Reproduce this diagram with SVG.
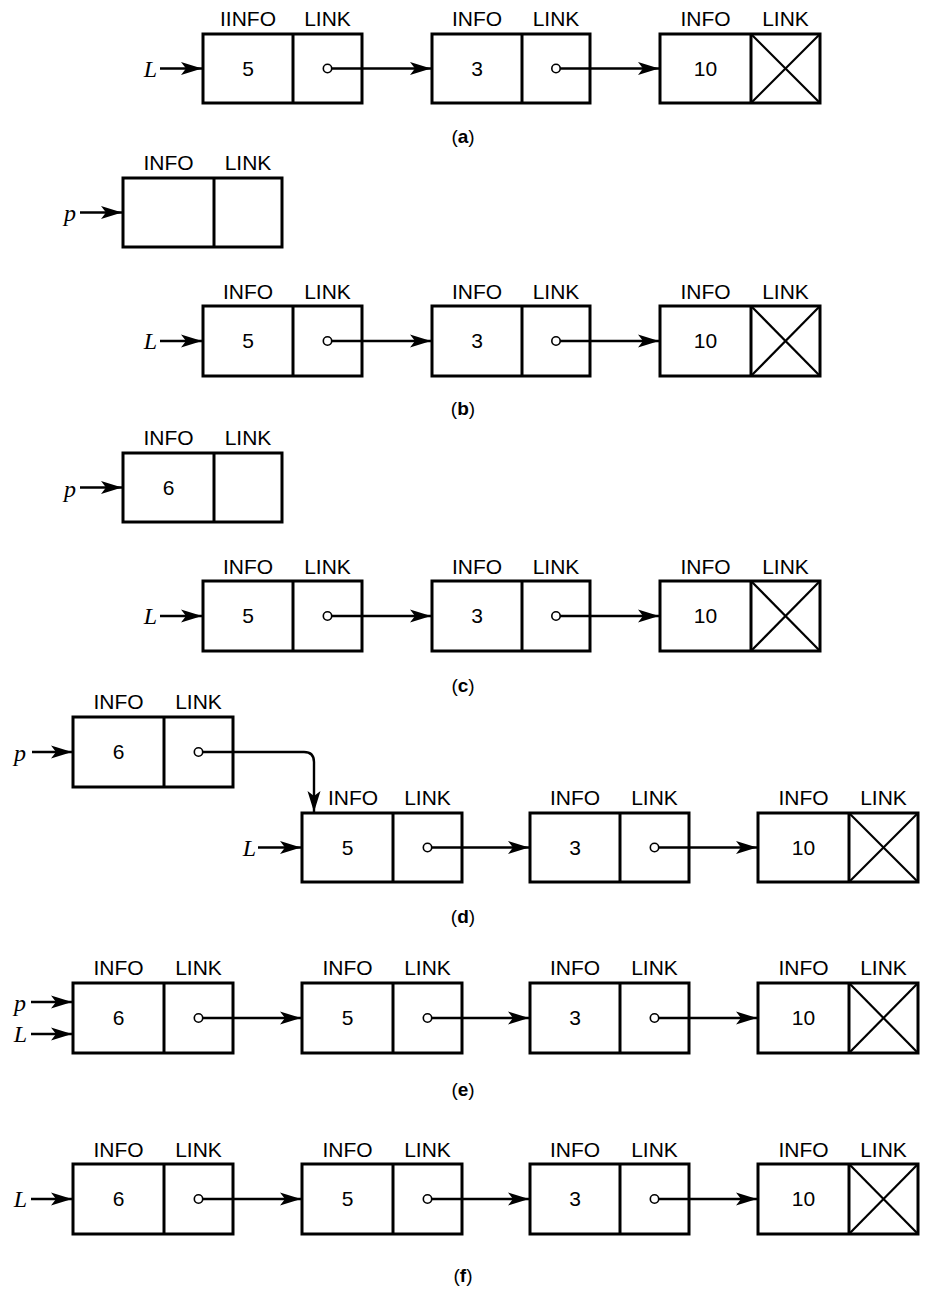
<svg xmlns="http://www.w3.org/2000/svg" width="925" height="1292" viewBox="0 0 925 1292">
<defs>
<style>
.box{fill:#fff;stroke:#000;stroke-width:3}
.dv{stroke:#000;stroke-width:3}
.x{stroke:#000;stroke-width:2.2}
.lbl{font-family:"Liberation Sans",Arial,sans-serif;font-size:21px;text-anchor:middle;fill:#000}
.val{font-family:"Liberation Sans",Arial,sans-serif;font-size:21px;text-anchor:middle;fill:#000}
.var{font-family:"Liberation Serif","Times New Roman",serif;font-style:italic;font-size:24px;text-anchor:end;fill:#000}
.cap{font-family:"Liberation Sans",Arial,sans-serif;font-size:19px;text-anchor:middle;fill:#000}
.cap tspan{font-weight:bold}
.ln{stroke:#000;stroke-width:2.4;fill:none;marker-end:url(#ah)}
.lk{stroke:#000;stroke-width:2.4;fill:none;marker-start:url(#dot);marker-end:url(#ah)}
</style>
<marker id="ah" markerUnits="userSpaceOnUse" markerWidth="22" markerHeight="16" refX="21" refY="8" orient="auto">
<path d="M0,1.5 L21,8 L0,14.5 L5,8 Z" fill="#000"/>
</marker>
<marker id="dot" markerUnits="userSpaceOnUse" markerWidth="12" markerHeight="12" refX="6" refY="6" orient="auto">
<circle cx="6" cy="6" r="4.2" fill="#fff" stroke="#000" stroke-width="1.6"/>
</marker>
</defs>
<rect width="925" height="1292" fill="#fff"/>

<!-- (a) -->
<g id="a-n1"><rect class="box" x="203" y="34" width="159" height="69"/><line class="dv" x1="293" y1="34" x2="293" y2="103"/><text class="lbl" x="248" y="26">IINFO</text><text class="lbl" x="327.5" y="26">LINK</text><text class="val" x="248" y="76">5</text></g>
<g id="a-n2"><rect class="box" x="432" y="34" width="158" height="69"/><line class="dv" x1="522" y1="34" x2="522" y2="103"/><text class="lbl" x="477" y="26">INFO</text><text class="lbl" x="556" y="26">LINK</text><text class="val" x="477" y="76">3</text></g>
<g id="a-n3"><rect class="box" x="660" y="34" width="160" height="69"/><line class="dv" x1="751" y1="34" x2="751" y2="103"/><line class="x" x1="751" y1="34" x2="820" y2="103"/><line class="x" x1="820" y1="34" x2="751" y2="103"/><text class="lbl" x="705.5" y="26">INFO</text><text class="lbl" x="785.5" y="26">LINK</text><text class="val" x="705.5" y="76">10</text></g>
<text class="cap" x="463" y="143">(<tspan>a</tspan>)</text>

<!-- (b) -->
<g id="b-p"><rect class="box" x="123" y="178" width="159" height="69"/><line class="dv" x1="214" y1="178" x2="214" y2="247"/><text class="lbl" x="168.5" y="170">INFO</text><text class="lbl" x="248" y="170">LINK</text></g>
<g id="b-n1"><rect class="box" x="203" y="306" width="159" height="70"/><line class="dv" x1="293" y1="306" x2="293" y2="376"/><text class="lbl" x="248" y="299">INFO</text><text class="lbl" x="327.5" y="299">LINK</text><text class="val" x="248" y="348">5</text></g>
<g id="b-n2"><rect class="box" x="432" y="306" width="158" height="70"/><line class="dv" x1="522" y1="306" x2="522" y2="376"/><text class="lbl" x="477" y="299">INFO</text><text class="lbl" x="556" y="299">LINK</text><text class="val" x="477" y="348">3</text></g>
<g id="b-n3"><rect class="box" x="660" y="306" width="160" height="70"/><line class="dv" x1="751" y1="306" x2="751" y2="376"/><line class="x" x1="751" y1="306" x2="820" y2="376"/><line class="x" x1="820" y1="306" x2="751" y2="376"/><text class="lbl" x="705.5" y="299">INFO</text><text class="lbl" x="785.5" y="299">LINK</text><text class="val" x="705.5" y="348">10</text></g>
<text class="cap" x="463" y="415">(<tspan>b</tspan>)</text>

<!-- (c) -->
<g id="c-p"><rect class="box" x="123" y="453" width="159" height="69"/><line class="dv" x1="214" y1="453" x2="214" y2="522"/><text class="lbl" x="168.5" y="445">INFO</text><text class="lbl" x="248" y="445">LINK</text><text class="val" x="168.5" y="495">6</text></g>
<g id="c-n1"><rect class="box" x="203" y="581" width="159" height="70"/><line class="dv" x1="293" y1="581" x2="293" y2="651"/><text class="lbl" x="248" y="574">INFO</text><text class="lbl" x="327.5" y="574">LINK</text><text class="val" x="248" y="623">5</text></g>
<g id="c-n2"><rect class="box" x="432" y="581" width="158" height="70"/><line class="dv" x1="522" y1="581" x2="522" y2="651"/><text class="lbl" x="477" y="574">INFO</text><text class="lbl" x="556" y="574">LINK</text><text class="val" x="477" y="623">3</text></g>
<g id="c-n3"><rect class="box" x="660" y="581" width="160" height="70"/><line class="dv" x1="751" y1="581" x2="751" y2="651"/><line class="x" x1="751" y1="581" x2="820" y2="651"/><line class="x" x1="820" y1="581" x2="751" y2="651"/><text class="lbl" x="705.5" y="574">INFO</text><text class="lbl" x="785.5" y="574">LINK</text><text class="val" x="705.5" y="623">10</text></g>
<text class="cap" x="463" y="692">(<tspan>c</tspan>)</text>

<!-- (d) -->
<g id="d-p"><rect class="box" x="73" y="717" width="160" height="70"/><line class="dv" x1="164" y1="717" x2="164" y2="787"/><text class="lbl" x="118.5" y="709">INFO</text><text class="lbl" x="198.5" y="709">LINK</text><text class="val" x="118.5" y="759">6</text></g>
<g id="d-n1"><rect class="box" x="302" y="813" width="160" height="69"/><line class="dv" x1="393" y1="813" x2="393" y2="882"/><text class="lbl" x="353" y="805">INFO</text><text class="lbl" x="427.5" y="805">LINK</text><text class="val" x="347.5" y="855">5</text></g>
<g id="d-n2"><rect class="box" x="530" y="813" width="159" height="69"/><line class="dv" x1="620" y1="813" x2="620" y2="882"/><text class="lbl" x="575" y="805">INFO</text><text class="lbl" x="654.5" y="805">LINK</text><text class="val" x="575" y="855">3</text></g>
<g id="d-n3"><rect class="box" x="758" y="813" width="160" height="69"/><line class="dv" x1="849" y1="813" x2="849" y2="882"/><line class="x" x1="849" y1="813" x2="918" y2="882"/><line class="x" x1="918" y1="813" x2="849" y2="882"/><text class="lbl" x="803.5" y="805">INFO</text><text class="lbl" x="883.5" y="805">LINK</text><text class="val" x="803.5" y="855">10</text></g>
<text class="cap" x="463" y="923">(<tspan>d</tspan>)</text>

<!-- (e) -->
<g id="e-n0"><rect class="box" x="73" y="983" width="160" height="70"/><line class="dv" x1="164" y1="983" x2="164" y2="1053"/><text class="lbl" x="118.5" y="975">INFO</text><text class="lbl" x="198.5" y="975">LINK</text><text class="val" x="118.5" y="1025">6</text></g>
<g id="e-n1"><rect class="box" x="302" y="983" width="160" height="70"/><line class="dv" x1="393" y1="983" x2="393" y2="1053"/><text class="lbl" x="347.5" y="975">INFO</text><text class="lbl" x="427.5" y="975">LINK</text><text class="val" x="347.5" y="1025">5</text></g>
<g id="e-n2"><rect class="box" x="530" y="983" width="159" height="70"/><line class="dv" x1="620" y1="983" x2="620" y2="1053"/><text class="lbl" x="575" y="975">INFO</text><text class="lbl" x="654.5" y="975">LINK</text><text class="val" x="575" y="1025">3</text></g>
<g id="e-n3"><rect class="box" x="758" y="983" width="160" height="70"/><line class="dv" x1="849" y1="983" x2="849" y2="1053"/><line class="x" x1="849" y1="983" x2="918" y2="1053"/><line class="x" x1="918" y1="983" x2="849" y2="1053"/><text class="lbl" x="803.5" y="975">INFO</text><text class="lbl" x="883.5" y="975">LINK</text><text class="val" x="803.5" y="1025">10</text></g>
<text class="cap" x="463" y="1096">(<tspan>e</tspan>)</text>

<!-- (f) -->
<g id="f-n0"><rect class="box" x="73" y="1164" width="160" height="70"/><line class="dv" x1="164" y1="1164" x2="164" y2="1234"/><text class="lbl" x="118.5" y="1157">INFO</text><text class="lbl" x="198.5" y="1157">LINK</text><text class="val" x="118.5" y="1206">6</text></g>
<g id="f-n1"><rect class="box" x="302" y="1164" width="160" height="70"/><line class="dv" x1="393" y1="1164" x2="393" y2="1234"/><text class="lbl" x="347.5" y="1157">INFO</text><text class="lbl" x="427.5" y="1157">LINK</text><text class="val" x="347.5" y="1206">5</text></g>
<g id="f-n2"><rect class="box" x="530" y="1164" width="159" height="70"/><line class="dv" x1="620" y1="1164" x2="620" y2="1234"/><text class="lbl" x="575" y="1157">INFO</text><text class="lbl" x="654.5" y="1157">LINK</text><text class="val" x="575" y="1206">3</text></g>
<g id="f-n3"><rect class="box" x="758" y="1164" width="160" height="70"/><line class="dv" x1="849" y1="1164" x2="849" y2="1234"/><line class="x" x1="849" y1="1164" x2="918" y2="1234"/><line class="x" x1="918" y1="1164" x2="849" y2="1234"/><text class="lbl" x="803.5" y="1157">INFO</text><text class="lbl" x="883.5" y="1157">LINK</text><text class="val" x="803.5" y="1206">10</text></g>
<text class="cap" x="463" y="1282">(<tspan>f</tspan>)</text>

<!-- pointer variables -->
<g id="vars">
<text class="var" x="157" y="77">L</text>
<text class="var" x="76" y="221">p</text>
<text class="var" x="157" y="349">L</text>
<text class="var" x="76" y="497">p</text>
<text class="var" x="157" y="624">L</text>
<text class="var" x="26" y="761">p</text>
<text class="var" x="256" y="856">L</text>
<text class="var" x="26" y="1011">p</text>
<text class="var" x="27" y="1042">L</text>
<text class="var" x="27" y="1207">L</text>
</g>

<!-- connectors -->
<g id="connectors">
<line class="ln" x1="160" y1="68.5" x2="202" y2="68.5"/>
<line class="lk" x1="327.5" y1="68.5" x2="431" y2="68.5"/>
<line class="lk" x1="556" y1="68.5" x2="659" y2="68.5"/>

<line class="ln" x1="80" y1="212.5" x2="122" y2="212.5"/>
<line class="ln" x1="160" y1="341" x2="202" y2="341"/>
<line class="lk" x1="327.5" y1="341" x2="431" y2="341"/>
<line class="lk" x1="556" y1="341" x2="659" y2="341"/>

<line class="ln" x1="80" y1="487.5" x2="122" y2="487.5"/>
<line class="ln" x1="160" y1="616" x2="202" y2="616"/>
<line class="lk" x1="327.5" y1="616" x2="431" y2="616"/>
<line class="lk" x1="556" y1="616" x2="659" y2="616"/>

<line class="ln" x1="32" y1="752" x2="72" y2="752"/>
<path class="lk" d="M198.5,752 H304 Q314,752 314,762 V812"/>
<line class="ln" x1="258" y1="847.5" x2="301" y2="847.5"/>
<line class="lk" x1="427.5" y1="847.5" x2="529" y2="847.5"/>
<line class="lk" x1="654.5" y1="847.5" x2="757" y2="847.5"/>

<line class="ln" x1="31" y1="1002" x2="72" y2="1002"/>
<line class="ln" x1="31" y1="1034" x2="72" y2="1034"/>
<line class="lk" x1="198.5" y1="1018" x2="301" y2="1018"/>
<line class="lk" x1="427.5" y1="1018" x2="529" y2="1018"/>
<line class="lk" x1="654.5" y1="1018" x2="757" y2="1018"/>

<line class="ln" x1="31" y1="1199" x2="72" y2="1199"/>
<line class="lk" x1="198.5" y1="1199" x2="301" y2="1199"/>
<line class="lk" x1="427.5" y1="1199" x2="529" y2="1199"/>
<line class="lk" x1="654.5" y1="1199" x2="757" y2="1199"/>
</g>
</svg>
